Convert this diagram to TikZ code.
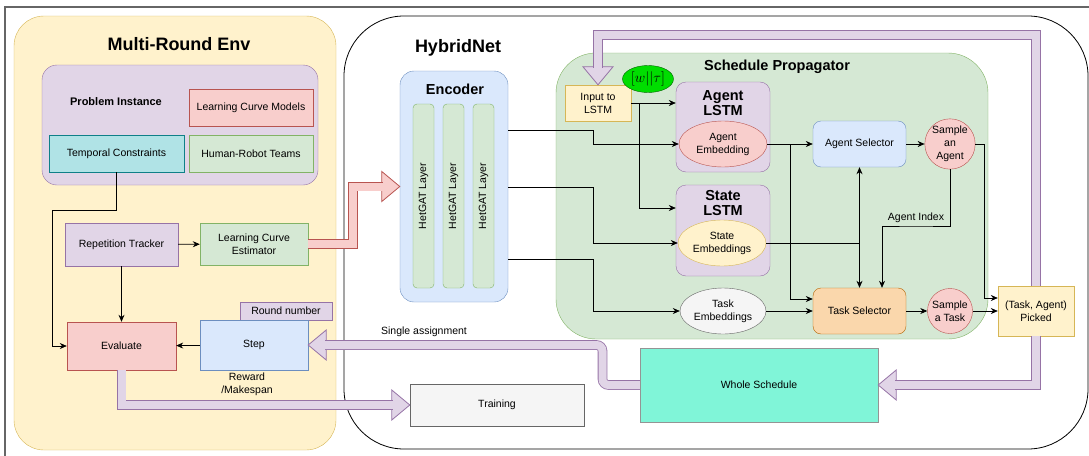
\documentclass[tikz,border=0pt]{standalone}
\usepackage{fontspec}
\setmainfont{Liberation Sans}
\usetikzlibrary{arrows.meta,shapes.geometric}

\definecolor{yfill}{HTML}{FFF2CC}\definecolor{yline}{HTML}{D6B656}
\definecolor{pfill}{HTML}{E1D5E7}\definecolor{pline}{HTML}{9673A6}
\definecolor{rfill}{HTML}{F8CECC}\definecolor{rline}{HTML}{B85450}
\definecolor{gfill}{HTML}{D5E8D4}\definecolor{gline}{HTML}{82B366}
\definecolor{bfill}{HTML}{DAE8FC}\definecolor{bline}{HTML}{6C8EBF}
\definecolor{cfill}{HTML}{B0E3E6}\definecolor{cline}{HTML}{0E8088}
\definecolor{ofill}{HTML}{FAD7AC}\definecolor{oline}{HTML}{B46504}
\definecolor{sfill}{HTML}{F5F5F5}\definecolor{sline}{HTML}{666666}
\definecolor{tfill}{HTML}{80F5D8}\definecolor{wgreen}{HTML}{00DD00}

\tikzset{
  box/.style={draw, inner sep=0pt, align=center},
  title/.style={font=\bfseries\fontsize{18}{21}\selectfont},
  subtitle/.style={font=\bfseries\fontsize{14.5}{15}\selectfont, align=center},
  conn/.style={-{Stealth[length=7pt,width=6pt]}, line width=0.7pt},
  wire/.style={line width=0.7pt},
  fatpurple/.style={draw=pline, double=pfill, double distance=8pt, line width=0.8pt},
  fatred/.style={draw=rline, double=rfill, double distance=8pt, line width=0.8pt},
  fathead/.pic={\path[pic actions] (0,0) -- (-18,15) -- (-18,-15) -- cycle;}
}

\begin{document}
\begin{tikzpicture}[x=1pt,y=-1pt,font=\fontsize{10.5}{13}\selectfont]
  \useasboundingbox (0,0) rectangle (1089,455);
  \draw[sline,line width=1.2pt] (5,470) -- (5,7) -- (1100,7);

  % Multi-Round Env
  \node[box,draw=yline,fill=yfill,rounded corners=30pt,minimum width=322pt,minimum height=434pt] (env) at (175,233) {};
  \node[title] (envtitle) at (179,44) {Multi-Round Env};
  \node[box,draw=pline,fill=pfill,rounded corners=15pt,minimum width=276pt,minimum height=120pt] (probinst) at (180,125) {};
  \node[font=\bfseries\fontsize{11}{13}\selectfont] (probtitle) at (116,102) {Problem Instance};
  \node[box,draw=rline,fill=rfill,minimum width=124pt,minimum height=37pt] (lcmodels) at (251,107.5) {Learning Curve Models};
  \node[box,draw=cline,fill=cfill,minimum width=135pt,minimum height=37pt] (tempcons) at (116.5,153.5) {Temporal Constraints};
  \node[box,draw=gline,fill=gfill,minimum width=124pt,minimum height=37pt] (hrteams) at (251,153.5) {Human-Robot Teams};
  \node[box,draw=pline,fill=pfill,minimum width=113pt,minimum height=43pt] (reptrack) at (121.5,244.5) {Repetition Tracker};
  \node[box,draw=gline,fill=gfill,minimum width=108pt,minimum height=42pt] (lcest) at (254,244) {Learning Curve\\Estimator};
  \node[box,draw=rline,fill=rfill,minimum width=109pt,minimum height=48pt] (evaluate) at (121.5,346) {Evaluate};
  \node[box,draw=pline,fill=pfill,minimum width=92pt,minimum height=18pt] (roundnum) at (286,311) {Round number};
  \node[box,draw=bline,fill=bfill,minimum width=108pt,minimum height=50pt] (stepbox) at (254,345) {Step};
  \node[align=center] (reward) at (247,384) {Reward\\/Makespan};

  \draw[conn] (tempcons.south) |- (52,210) |- (evaluate.west);
  \draw[conn] (reptrack) -- (lcest);
  \draw[conn] (reptrack) -- (evaluate);
  \draw[conn] (stepbox) -- (evaluate);

  % HybridNet
  \node[box,line width=0.8pt,rounded corners=60pt,minimum width=744pt,minimum height=433pt] (hybrid) at (716,232.5) {};
  \node[title] (hybridtitle) at (458,48) {HybridNet};
  \node[box,draw=bline,fill=bfill,rounded corners=14pt,minimum width=108pt,minimum height=231pt] (encoder) at (454,186.5) {};
  \node[subtitle] (enctitle) at (455,89) {Encoder};
  \foreach \i/\x in {1/423.5,2/453.5,3/483.5}
    \node[box,draw=gline,fill=gfill,rounded corners=4pt,rotate=90,minimum width=184pt,minimum height=21pt] (layer\i) at (\x,196) {HetGAT Layer};
  \node[box,draw=sline,fill=sfill,minimum width=174pt,minimum height=42pt] (training) at (497,405) {Training};

  % Schedule Propagator
  \node[box,draw=gline,fill=gfill,rounded corners=40pt,minimum width=432pt,minimum height=286pt] (sched) at (772,196) {};
  \node[subtitle] (schedtitle) at (777,67) {Schedule Propagator};
  \node[box,draw=yline,fill=yfill,minimum width=66pt,minimum height=36pt] (input) at (598,103) {Input to\\LSTM};
  \node[ellipse,draw=green!40!black,fill=wgreen,inner sep=0pt,minimum width=51pt,minimum height=27pt,font=\fontsize{14}{16}\selectfont] (wtau) at (648,79) {$[w||\tau]$};
  \node[box,draw=pline,fill=pfill,rounded corners=10pt,minimum width=94pt,minimum height=90pt] (agentlstm) at (723,127) {};
  \node[subtitle] (agenttitle) at (723,103.5) {Agent\\LSTM};
  \node[ellipse,box,draw=rline,fill=rfill,minimum width=88pt,minimum height=46pt] (agentemb) at (723,144) {Agent\\Embedding};
  \node[box,draw=pline,fill=pfill,rounded corners=10pt,minimum width=94pt,minimum height=91pt] (statelstm) at (723,230.5) {};
  \node[subtitle] (statetitle) at (723,203) {State\\LSTM};
  \node[ellipse,box,draw=yline,fill=yfill,minimum width=88pt,minimum height=46pt] (stateemb) at (722,243) {State\\Embeddings};
  \node[ellipse,box,draw=sline,fill=sfill,minimum width=86pt,minimum height=46pt] (taskemb) at (723,311) {Task\\Embeddings};
  \node[box,draw=bline,fill=bfill,rounded corners=8pt,minimum width=93pt,minimum height=46pt] (agentsel) at (859.5,144) {Agent Selector};
  \node[circle,box,draw=rline,fill=rfill,minimum size=45pt] (sampleagent) at (950,144) {Sample\\an\\Agent};
  \node[box,draw=oline,fill=ofill,rounded corners=8pt,minimum width=93pt,minimum height=46pt] (tasksel) at (859.5,311) {Task Selector};
  \node[circle,box,draw=rline,fill=rfill,minimum size=45pt] (sampletask) at (950,311) {Sample\\a Task};
  \node[box,draw=yline,fill=yfill,minimum width=76pt,minimum height=50pt] (picked) at (1036,311) {(Task, Agent)\\Picked};
  \node[box,draw=sline!70,fill=tfill,minimum width=238pt,minimum height=74pt] (whole) at (759,385) {Whole Schedule};

  % encoder outputs
  \draw[conn] ([yshift=56.5pt]encoder.east) -- (593,130) |- (agentemb.west);
  \draw[conn] ([yshift=-0.5pt]encoder.east) -- (593,187) |- (stateemb.west);
  \draw[conn] ([yshift=-72.5pt]encoder.east) -- (593,259) |- (taskemb.west);
  \draw[conn] (input.east) -- (input.east -| agentlstm.west);
  \draw[conn] (639,103) |- ([yshift=22.5pt]statelstm.west);
  \draw[conn] (agentemb) -- (agentsel);
  \draw[conn] (790,144) |- ([yshift=12pt]tasksel.west);
  \draw[conn] (taskemb) -- (tasksel);
  \draw[wire] (stateemb.east) -- (stateemb.east -| agentsel.south);
  \draw[conn,{Stealth[length=7pt,width=6pt]}-{Stealth[length=7pt,width=6pt]}] (agentsel) -- (tasksel);
  \draw[conn] (agentsel) -- (sampleagent);
  \draw[conn] (sampleagent.south) |- (916,226) -| ([xshift=22.5pt]tasksel.north);
  \node (agentidx) at (916,218) {Agent Index};
  \draw[conn] (sampleagent.east) -- (984,144) |- ([yshift=13pt]picked.west);
  \draw[conn] (tasksel) -- (sampletask);
  \draw[conn] (sampletask) -- (picked);

  % fat arrows
  \pic[draw=rline,fill=rfill,line width=0.8pt] at (encoder.west) {fathead};
  \draw[fatred] (lcest.east) -| (353,186.5) -- ([xshift=-17pt]encoder.west);
  \pic[draw=pline,fill=pfill,line width=0.8pt] at (training.west) {fathead};
  \draw[fatpurple] (evaluate.south) |- ([xshift=-17pt]training.west);
  \pic[draw=pline,fill=pfill,line width=0.8pt,rotate=180] at (stepbox.east) {fathead};
  \draw[fatpurple,rounded corners=6pt] (whole.west) -| (602.5,345) -- ([xshift=17pt]stepbox.east);
  \node (single) at (424,332) {Single assignment};
  \pic[draw=pline,fill=pfill,line width=0.8pt,rotate=180] at (whole.east) {fathead};
  \draw[fatpurple] (picked.south) |- ([xshift=17pt]whole.east);
  \pic[draw=pline,fill=pfill,line width=0.8pt,rotate=-90] at (input.north) {fathead};
  \draw[fatpurple] (picked.north) |- (598,35) -- ([yshift=17pt]input.north);
\end{tikzpicture}
\end{document}
